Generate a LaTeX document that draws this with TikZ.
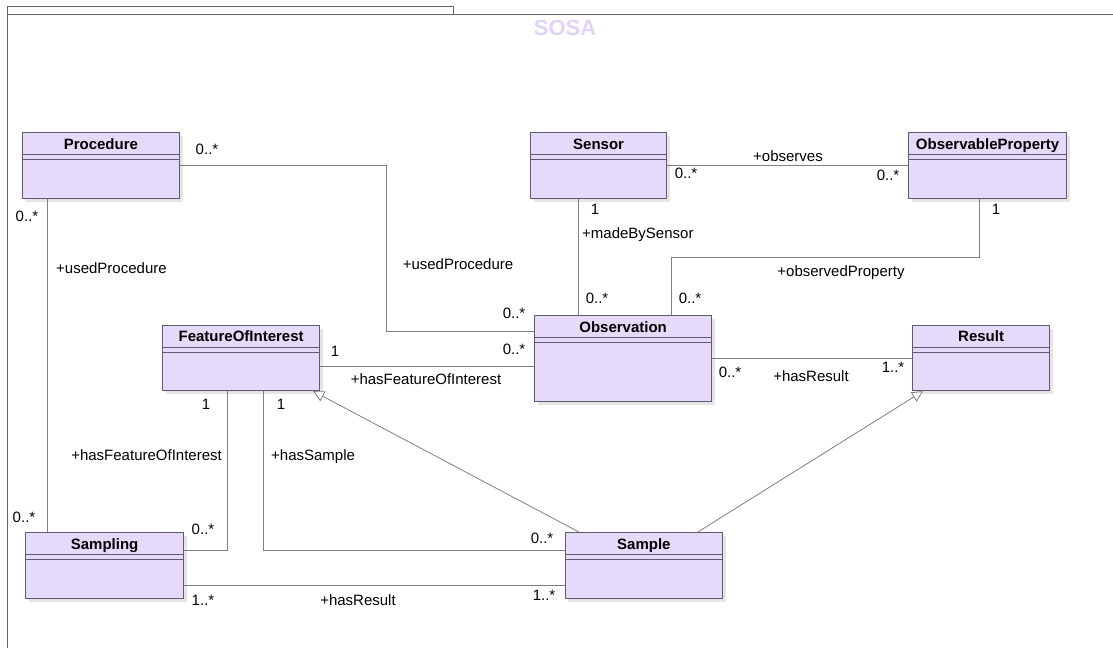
\documentclass[tikz,border=0pt]{standalone}
\usepackage{fontspec}
\setmainfont{Liberation Sans}
\usepackage{xcolor}
\usepackage{tikz}
\usetikzlibrary{shapes,positioning,arrows.meta,shadows}
\definecolor{clsfill}{RGB}{230,218,250}
\definecolor{clsline}{RGB}{96,90,110}
\definecolor{lnk}{RGB}{128,128,128}
\definecolor{titlecol}{RGB}{226,210,250}
\tikzset{cls/.style={rectangle,draw=clsline,fill=clsfill,line width=1.2pt,anchor=north west,inner sep=0pt,minimum height=66pt,text height=11pt,text depth=44pt,font=\fontsize{15}{18}\selectfont\bfseries,
    drop shadow={shadow xshift=3pt,shadow yshift=-3pt,fill=black!10,opacity=1},
    path picture={\draw[clsline,line width=1.2pt] ([yshift=-22pt]path picture bounding box.north west) -- ([yshift=-22pt]path picture bounding box.north east) ([yshift=-27pt]path picture bounding box.north west) -- ([yshift=-27pt]path picture bounding box.north east);}},
  mult/.style={font=\fontsize{15}{18}\selectfont,inner sep=0pt,text height=11pt,text depth=3pt},
  assoc/.style={draw=lnk,line width=1pt},
  gen/.style={draw=lnk,line width=0.8pt,-{Triangle[open,length=11pt,width=11pt,fill=white]}},
  pkgline/.style={draw=black!60,line width=1pt}}

\begin{document}
\begin{tikzpicture}[x=1pt,y=-1pt]
	\useasboundingbox (0,0) rectangle (1113,648);
	\draw[pkgline] (7,648) -- (7,6) -- (453,6) -- (453,14);
	\draw[pkgline] (7,14) -- (1113,14);
	\node[font=\fontsize{22}{26}\selectfont\bfseries,text=titlecol] (title) at (565,28) {SOSA};

		\node[cls,minimum width=157.5] (proc) at (21.5,132) {Procedure};
        \node[cls,minimum width=136] (sensor) at (530,132) {Sensor};
        \node[cls,minimum width=158] (obsprop) at (908,132) {ObservableProperty};
        \node[cls,minimum width=177,minimum height=86,text depth=64pt] (obs) at (534,315) {Observation};
        \node[cls,minimum width=137,minimum height=65] (result) at (912,325) {Result};
        \node[cls,minimum width=157,minimum height=65] (foi) at (162,325) {FeatureOfInterest};
        \node[cls,minimum width=158] (sampling) at (25,532) {Sampling};
        \node[cls,minimum width=157.5] (sample) at (564.5,532) {Sample};

        \draw[assoc] (proc.east) -- ++(206,0) |- ([yshift=27pt]obs.west);
        \draw[assoc] ([xshift=25.5pt]proc.south west) -- ([xshift=25.5pt]proc.south west |- sampling.north);
        \draw[assoc] (sensor) -- (obsprop);
        \draw[assoc] ([xshift=-20pt]sensor.south) -- ([xshift=-20pt]sensor.south |- obs.north);
        \draw[assoc] ([xshift=-8pt]obsprop.south) -- ++(0,58) -| ([xshift=48.5pt]obs.north);
        \draw[assoc] (obs.east) -- (obs.east -| result.west);
        \draw[assoc] ([yshift=-8.5pt]foi.east) -- ([yshift=-8.5pt]foi.east -| obs.west);
        \draw[assoc] ([xshift=-13.5pt]foi.south) |- ([yshift=15pt]sampling.east);
        \draw[assoc] ([xshift=22.5pt]foi.south) |- ([yshift=15pt]sample.west);
        \draw[assoc] ([yshift=-20pt]sampling.east) -- ([yshift=-20pt]sampling.east -| sample.west);
        \draw[gen] ([xshift=-65pt]sample.north) -- ([xshift=-7pt]foi.south east);
        \draw[gen] ([xshift=54pt]sample.north) -- ([xshift=11pt]result.south west);

        \node[mult] (pm1) at (207,150) {0..*};
        \node[mult] (pm2) at (27,217) {0..*};
        \node[mult,anchor=west] (pr1) at (56,269) {+usedProcedure};
        \node[mult] (pm3) at (24,518) {0..*};
        \node[mult] (pr2) at (458,265) {+usedProcedure};
        \node[mult] (pm4) at (514,314) {0..*};
        \node[mult] (obsv) at (788,157) {+observes};
        \node[mult] (sm1) at (686,174) {0..*};
        \node[mult] (opm1) at (888,176) {0..*};
        \node[mult] (sm2) at (595,210) {1};
        \node[mult,anchor=west] (mbs) at (582,234) {+madeBySensor};
        \node[mult] (om1) at (597,299) {0..*};
        \node[mult] (opm2) at (996,210) {1};
        \node[mult] (obp) at (841,272) {+observedProperty};
        \node[mult] (om2) at (690,299) {0..*};
        \node[mult] (om3) at (730,373) {0..*};
        \node[mult] (hr1) at (811,377) {+hasResult};
        \node[mult] (rm1) at (893,368) {1..*};
        \node[mult] (fm1) at (335,352) {1};
        \node[mult] (om4) at (514,350) {0..*};
        \node[mult] (hf1) at (426,380) {+hasFeatureOfInterest};
        \node[mult] (fm2) at (206,405) {1};
        \node[mult,anchor=east] (hf2) at (222,456) {+hasFeatureOfInterest};
        \node[mult] (sgm1) at (203,530) {0..*};
        \node[mult] (fm3) at (281,405) {1};
        \node[mult,anchor=west] (hs) at (271,456) {+hasSample};
        \node[mult] (spm1) at (542,539) {0..*};
        \node[mult] (sgm2) at (203,601) {1..*};
        \node[mult] (hr2) at (358,601) {+hasResult};
        \node[mult] (spm2) at (544,596) {1..*};
    \end{tikzpicture}
\end{document}
